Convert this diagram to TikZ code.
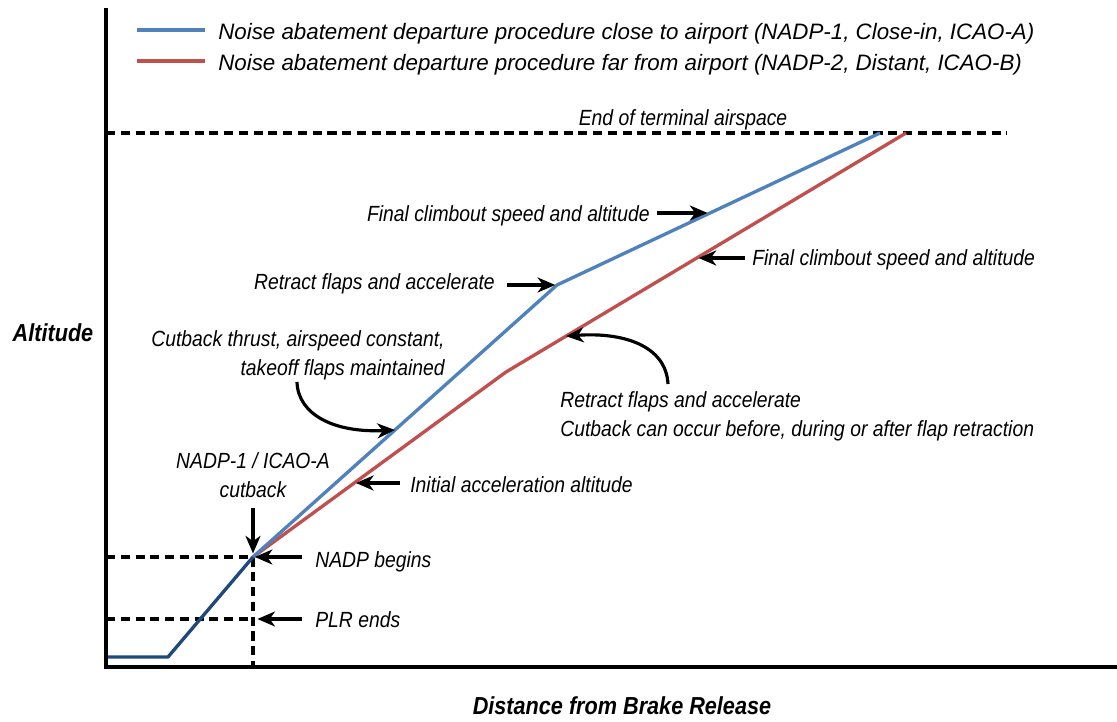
\documentclass[tikz,border=0pt]{standalone}
\usepackage{fontspec}
\setmainfont{Liberation Sans}[FakeStretch=0.88]
\newfontfamily\legendfont{Liberation Sans}
\usetikzlibrary{arrows.meta,positioning,calc}
\definecolor{nadpblue}{HTML}{4F81BD}
\definecolor{nadpred}{HTML}{C0504D}
\definecolor{climbnavy}{HTML}{1F497D}
\tikzset{
  axis/.style={draw,line width=2.1pt},
  guide/.style={draw,line width=1.8pt,dash pattern=on 5.2pt off 3.2pt},
  closein/.style={draw,nadpblue,line width=1.9pt,line join=round},
  distant/.style={draw,nadpred,line width=1.9pt,line join=round},
  note/.style={font=\fontsize{12.5}{16}\selectfont\itshape,inner sep=0pt},
  legend/.style={font=\legendfont\fontsize{12.7}{16}\selectfont\itshape,inner sep=0pt},
  axlabel/.style={font=\fontsize{14}{17}\selectfont\bfseries\itshape,inner sep=0pt},
  ptr/.style={draw,-{Stealth[length=10pt,width=8.5pt,inset=3pt]},line width=1.8pt}
}

\begin{document}
\begin{tikzpicture}[x=0.02cm,y=-0.02cm]
  \useasboundingbox (0,0) rectangle (1117,721);

  % points of the two climb profiles
  \coordinate (o) at (106,667);
  \coordinate (ytop) at (106,8);
  \coordinate (xend) at (1117,667);
  \coordinate (brake) at (108,657);
  \coordinate (rot) at (168,657);
  \coordinate (nadp) at (253,557);
  \coordinate (plr) at (253,619);
  \coordinate (akink) at (557,285);
  \coordinate (aend) at (880,133);
  \coordinate (bkink) at (506,372);
  \coordinate (bend) at (906,133);
  \coordinate (tma) at (1007,133);
  \coordinate (fap) at ($(akink)!0.474!(aend)$);
  \coordinate (fbp) at ($(bkink)!0.477!(bend)$);
  \coordinate (iap) at ($(nadp)!0.4!(bkink)$);
  \coordinate (cbp) at ($(nadp)!0.467!(akink)$);
  \coordinate (rbp) at ($(bkink)!0.15!(bend)$);
  \coordinate (cbtail) at (297,382);
  \coordinate (rbtail) at (668,384);

  % guides and axes
  \path[guide] (o |- tma) -- (tma);
  \path[guide] (o |- nadp) -- (nadp) -- (nadp |- o);
  \path[guide] (o |- plr) -- (plr);
  \path[axis] (ytop) -- (o) -- (xend);

  % profiles
  \path[distant] (nadp) -- (bkink) -- (bend);
  \path[closein] (nadp) -- (akink) -- (aend);
  \draw[climbnavy,line width=1.9pt,line join=round] (brake) -- (rot) -- (nadp);

  % legend
  \path[closein,line width=2.2pt] (137,30) -- (205,30);
  \path[distant,line width=2.2pt] (137,61) -- (205,61);
  \node[legend,anchor=base west] (lgA) at (218,39)
    {Noise abatement departure procedure close to airport (NADP-1, Close-in, ICAO-A)};
  \node[legend,anchor=base west] (lgB) at (218,70)
    {Noise abatement departure procedure far from airport (NADP-2, Distant, ICAO-B)};

  % axis labels
  \node[axlabel] (alt) at (53,333) {Altitude};
  \node[axlabel] (dist) at (622,706) {Distance from Brake Release};

  % annotations
  \node[note,anchor=base] (term) at (683,125) {End of terminal airspace};
  \node[note,anchor=base east,inner xsep=4pt] (fa) at (657,221) {Final climbout speed and altitude};
  \node[note,anchor=base east,inner xsep=6.8pt] (rfa) at (507,289) {Retract flaps and accelerate};
  \node[note,anchor=base west,inner xsep=4pt] (fb) at (745,265) {Final climbout speed and altitude};
  \node[note,anchor=base east,align=right] (cb) at (445,375)
    {Cutback thrust, airspeed constant,\\takeoff flaps maintained};
  \node[note,anchor=base west,align=left] (rfb) at (560,436)
    {Retract flaps and accelerate\\Cutback can occur before, during or after flap retraction};
  \node[note,anchor=base,align=center] (cut) at (253,497) {NADP-1 / ICAO-A\\cutback};
  \node[note,anchor=base west,inner xsep=5.7pt] (ia) at (400,492) {Initial acceleration altitude};
  \node[note,anchor=base west,inner xsep=7.4pt] (nb) at (302,567) {NADP begins};
  \node[note,anchor=base west,inner xsep=7.4pt] (pe) at (302,627) {PLR ends};

  \path[ptr,shorten >=1.5pt] (fa.east |- fap) -- (fap);
  \path[ptr,shorten >=1pt] (rfa.east |- akink) -- (akink);
  \path[ptr,shorten >=1pt] (fb.west |- fbp) -- (fbp);
  \path[ptr,shorten >=1pt] (ia.west |- iap) -- (iap);
  \path[ptr,shorten >=1pt] (nb.west |- nadp) -- (nadp);
  \path[ptr,shorten >=2.5pt] (pe.west |- plr) -- (plr);
  \path[ptr,shorten >=2pt] ([yshift=-6pt]cut.south -| nadp) -- (nadp);
  \path[ptr] (cbtail) .. controls (298,415) and (335,433) .. (cbp);
  \path[ptr] (rbtail) .. controls (666,345) and (622,332) .. (rbp);
\end{tikzpicture}
\end{document}
